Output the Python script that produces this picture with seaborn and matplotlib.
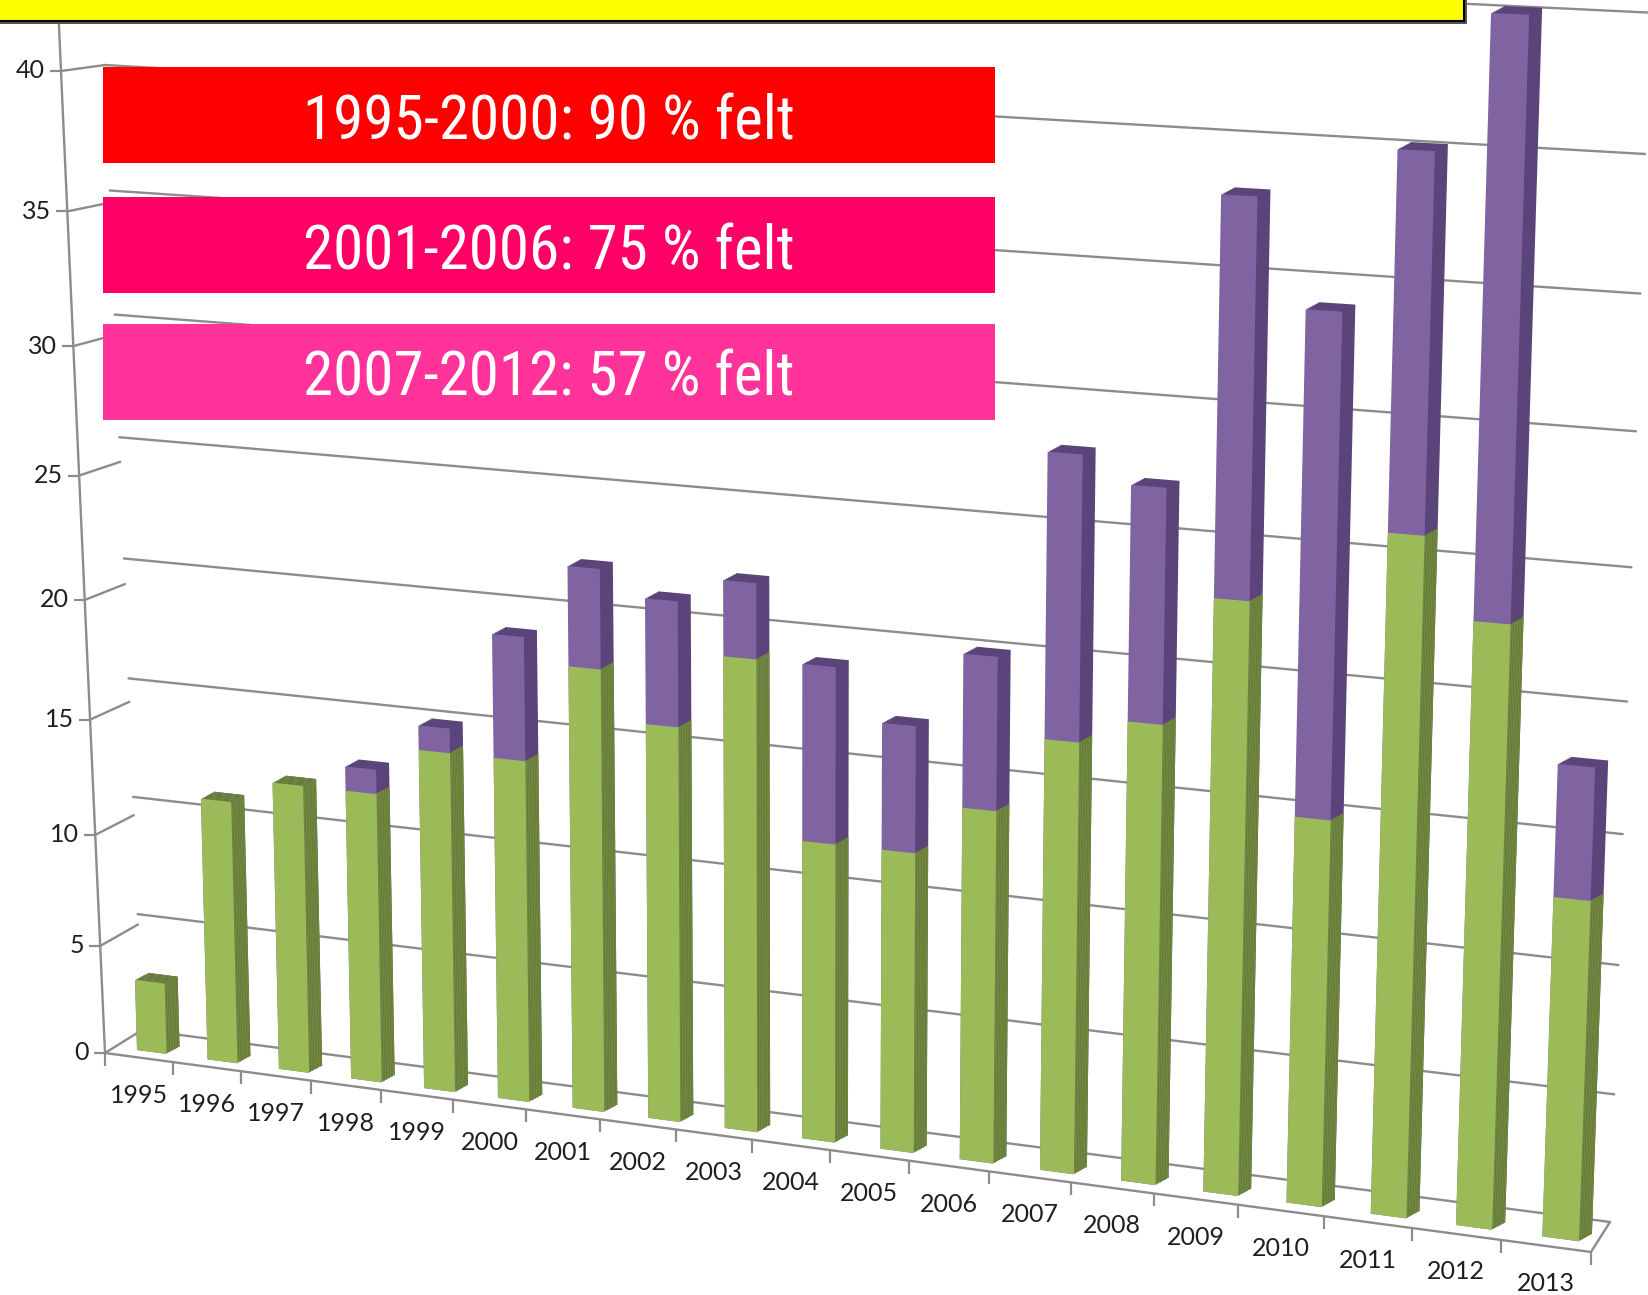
import numpy as np
import seaborn as sns
import matplotlib.pyplot as plt
from matplotlib.transforms import Transform, offset_copy
from matplotlib.patches import Rectangle

# data (felt = green, ikke felt = purple)
years = [str(y) for y in range(1995, 2014)]
felt = [3, 11, 12, 12, 14, 14, 18, 16, 19, 12, 12, 14, 17, 18, 23, 15, 26, 23, 13]
ikke_felt = [0, 0, 0, 1, 1, 5, 4, 5, 3, 7, 5, 6, 11, 9, 15, 19, 14, 22, 5]
y_ticks = list(range(0, 50, 5))
periods = ['1995-2000: 90 % felt', '2001-2006: 75 % felt', '2007-2012: 57 % felt']
period_colors = ['#FF0000', '#FF0066', '#FF3399']

GREEN, GREEN_SIDE = '#9BBB59', '#6F8A36'
PURPLE, PURPLE_SIDE = '#8064A2', '#5A4479'
GRID = '#8C8C8C'
W, H = 1648, 1295
BAR_W = 0.42


def homography(src, dst):
    A, b = [], []
    for (x, y), (u, v) in zip(src, dst):
        A.append([x, y, 1, 0, 0, 0, -u * x, -u * y]); b.append(u)
        A.append([0, 0, 0, x, y, 1, -v * x, -v * y]); b.append(v)
    h = np.linalg.solve(np.array(A, float), np.array(b, float))
    return np.append(h, 1).reshape(3, 3)


class Perspective(Transform):
    # maps a flat (category, value) plane onto the tilted 3D-looking plane (pixels)
    input_dims = output_dims = 2
    is_separable = False

    def __init__(self, src, dst):
        super().__init__()
        self.m = homography(src, dst)

    def transform_non_affine(self, values):
        v = np.atleast_2d(np.asarray(values, float))
        p = np.column_stack([v, np.ones(len(v))]) @ self.m.T
        return np.column_stack([p[:, 0] / p[:, 2], H - p[:, 1] / p[:, 2]])


# planes of the fake 3D box
bar_T = Perspective([(-BAR_W / 2, 0), (17 - BAR_W / 2, 0), (17 - BAR_W / 2, 45), (5 - BAR_W / 2, 19)],
                    [(137, 1050), (1456, 1225), (1491, 13), (492, 634)])
wall_T = Perspective([(-0.5, 0), (18.5, 0), (-0.5, 40), (18.5, 40)],
                     [(142, 1030), (1610, 1222), (105, 65), (1645, 154)])
side_T = Perspective([(-1.5, 0), (-0.5, 0), (-1.5, 40), (-0.5, 40)],
                     [(105, 1053), (142, 1030), (61, 71), (105, 65)])
floor_T = Perspective([(-0.5, 0), (18.5, 0), (-0.5, 1), (18.5, 1)],
                      [(105, 1053), (1591, 1252), (142, 1030), (1610, 1222)])

sns.set_style('white')
fig = plt.figure(figsize=(W / 100, H / 100), dpi=100)
ax = fig.add_axes([0, 0, 1, 1])
ax.set_axis_off()

# walls and grid
for v in y_ticks:
    ax.plot([-0.5, 18.5], [v, v], color=GRID, lw=1.7, transform=wall_T, zorder=0.5, clip_on=False)
    ax.plot([-1.5, -0.5], [v, v], color=GRID, lw=1.7, transform=side_T, zorder=0.5, clip_on=False)
ax.plot([-1.5, -1.5], [0, 48], color=GRID, lw=1.7, transform=side_T, zorder=0.5, clip_on=False)
ax.plot(np.full(len(y_ticks), -1.5), y_ticks, ls='none', marker=0, ms=8, mew=1.6, color=GRID,
        transform=side_T, clip_on=False)
lbl_T = offset_copy(side_T, fig=fig, x=-16, y=0, units='dots')
for v in y_ticks[:-1]:
    ax.text(-1.5, v, str(v), transform=lbl_T, ha='right', va='center', fontsize=18,
            family='Lato', color='#1F1F1F')

# floor
ax.plot([-0.5, 18.5, 18.5], [0, 0, 1], color=GRID, lw=1.7, transform=floor_T, zorder=0.5, clip_on=False)
bounds = np.arange(-0.5, 19, 1.0)
ax.plot(bounds, np.zeros(len(bounds)), ls='none', marker=3, ms=9, mew=1.6, color=GRID,
        transform=floor_T, clip_on=False)
xl_T = offset_copy(floor_T, fig=fig, x=0, y=-38, units='dots')
for i, yr in enumerate(years):
    ax.text(i, 0, yr, transform=xl_T, ha='center', va='center', fontsize=18,
            family='Lato', color='#1F1F1F')

# bars: dark copies stepped back in depth give the side/top faces, then the front faces
total = [a + b for a, b in zip(felt, ikke_felt)]
layers = []
for k in range(8, 0, -1):
    depth_T = offset_copy(bar_T, fig=fig, x=13 * k / 8, y=7 * k / 8, units='dots')
    layers += [(total, PURPLE_SIDE, depth_T, 1.0), (felt, GREEN_SIDE, depth_T, 1.0)]
layers += [(total, PURPLE, bar_T, 1.5), (felt, GREEN, bar_T, 1.5)]
for vals, col, tr, z in layers:
    n0 = len(ax.patches)
    sns.barplot(x=years, y=vals, color=col, saturation=1, width=BAR_W, ax=ax)
    for p in ax.patches[n0:]:
        p.set_transform(tr)
        p.set_zorder(z)
        p.set_edgecolor('none')
        p.set_clip_on(False)
ax.set_axis_off()

# period boxes
box_tops = [67, 197, 324]
for top, txt, col in zip(box_tops, periods, period_colors):
    fig.add_artist(Rectangle((103 / W, 1 - (top + 96) / H), 892 / W, 96 / H,
                             transform=fig.transFigure, facecolor=col, edgecolor='none', zorder=5))
    fig.text(549 / W, 1 - (top + 55) / H, txt, ha='center', va='center', color='white',
             fontsize=44, family=['Roboto Condensed', 'Liberation Sans Narrow', 'DejaVu Sans'],
             fontstretch='condensed', zorder=6)

# yellow title bar, cut off at the top edge
fig.add_artist(Rectangle((-0.01 + 3 / W, 1 - 24 / H), 1464 / W + 0.01, 40 / H,
                         transform=fig.transFigure, facecolor='#555555', edgecolor='none', zorder=6))
fig.add_artist(Rectangle((-0.01, 1 - 21 / H), 1464 / W + 0.01, 40 / H,
                         transform=fig.transFigure, facecolor='#FFFF00', edgecolor='black', lw=1.5, zorder=7))

fig.savefig('out.png', dpi=100)
